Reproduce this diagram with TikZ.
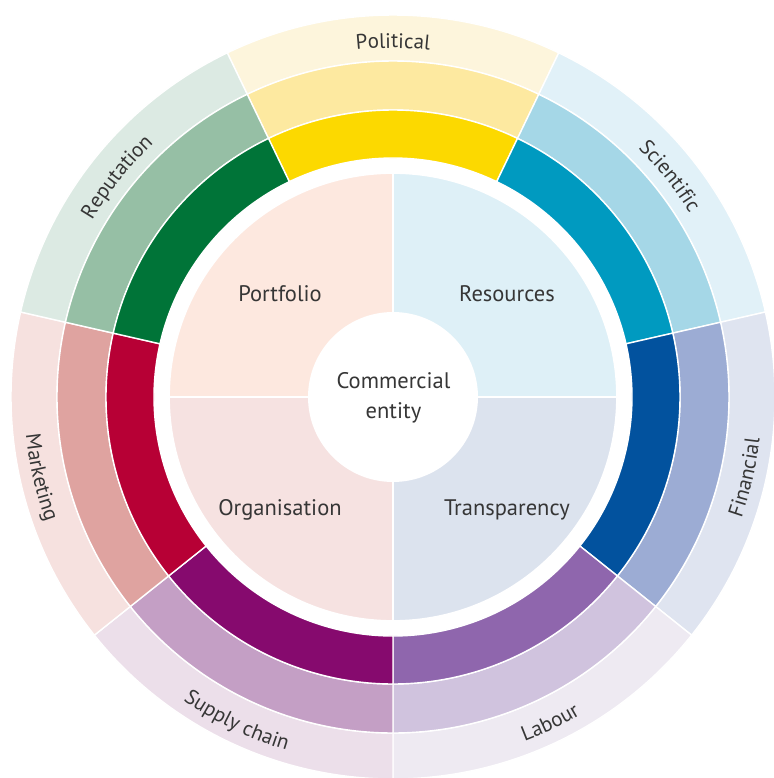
\documentclass[tikz,border=0pt]{standalone}
\usepackage{fontspec}
\setmainfont{PT Sans}
\usetikzlibrary{decorations.text}

% text
\definecolor{txt}{HTML}{363636}
% rings: outer (light), middle, inner (dark) for each sector
\definecolor{polO}{HTML}{FDF5DC}\definecolor{polM}{HTML}{FDE9A0}\definecolor{polD}{HTML}{FCD900}
\definecolor{sciO}{HTML}{E1F1F8}\definecolor{sciM}{HTML}{A5D7E7}\definecolor{sciD}{HTML}{009AC0}
\definecolor{finO}{HTML}{DFE4F0}\definecolor{finM}{HTML}{9CACD4}\definecolor{finD}{HTML}{02529E}
\definecolor{labO}{HTML}{EEEAF2}\definecolor{labM}{HTML}{D0C3DE}\definecolor{labD}{HTML}{8F66AD}
\definecolor{supO}{HTML}{ECDFEA}\definecolor{supM}{HTML}{C49FC5}\definecolor{supD}{HTML}{860A6E}
\definecolor{marO}{HTML}{F6E1DF}\definecolor{marM}{HTML}{DFA3A0}\definecolor{marD}{HTML}{B70035}
\definecolor{repO}{HTML}{DCEAE3}\definecolor{repM}{HTML}{96BFA5}\definecolor{repD}{HTML}{007438}
% quadrants
\definecolor{qPort}{HTML}{FDE8DF}
\definecolor{qRes}{HTML}{DEF0F7}
\definecolor{qOrg}{HTML}{F6E2E1}
\definecolor{qTra}{HTML}{DCE3EE}

\newcommand{\outerfont}{\fontsize{21}{21}\selectfont}

\tikzset{
  seg/.style={fill=#1, draw=white, line width=1.4pt},
  quad/.style={fill=#1, draw=white, line width=1.8pt},
  qlabel/.style={font=\fontsize{22.5}{30}\selectfont, text=txt, inner sep=0pt},
}

% annular sector: colour, start angle, end angle, inner radius, outer radius
\newcommand{\ringpart}[5]{%
  \filldraw[seg=#1] (#2:#4pt) arc[start angle=#2, end angle=#3, radius=#4pt]
    -- (#3:#5pt) arc[start angle=#3, end angle=#2, radius=#5pt] -- cycle;}

% label on an upper sector, read clockwise, letters pointing outwards
\newcommand{\upperlabel}[2]{%
  \pgfmathsetmacro{\la}{#1+30}\pgfmathsetmacro{\lb}{#1-30}%
  \path[decorate, decoration={text along path, text align=center,
      text color=txt, text={|\outerfont|#2}}]
    (\la:349pt) arc[start angle=\la, end angle=\lb, radius=349pt];}

% label on a lower sector, read anticlockwise, letters pointing inwards
\newcommand{\lowerlabel}[2]{%
  \pgfmathsetmacro{\la}{#1-30}\pgfmathsetmacro{\lb}{#1+30}%
  \path[decorate, decoration={text along path, text align=center,
      text color=txt, text={|\outerfont|#2}}]
    (\la:369pt) arc[start angle=\la, end angle=\lb, radius=369pt];}

\begin{document}
\begin{tikzpicture}[x=1pt, y=1pt]
\useasboundingbox (-393,-381) rectangle (380,397);

% seven sectors, three rings each
\foreach \k/\co/\cm/\cd in {0/polO/polM/polD, 1/sciO/sciM/sciD, 2/finO/finM/finD,
    3/labO/labM/labD, 4/supO/supM/supD, 5/marO/marM/marD, 6/repO/repM/repD} {
  \pgfmathsetmacro{\segmid}{90-\k*360/7}
  \pgfmathsetmacro{\sa}{\segmid+180/7}
  \pgfmathsetmacro{\sb}{\segmid-180/7}
  \ringpart{\co}{\sa}{\sb}{336}{382}
  \ringpart{\cm}{\sa}{\sb}{287}{336}
  \ringpart{\cd}{\sa}{\sb}{239}{287}
}

% four quadrants around the centre
\filldraw[quad=qRes] (0,0) -- (0:224pt) arc[start angle=0, end angle=90, radius=224pt] -- cycle;
\filldraw[quad=qPort] (0,0) -- (90:224pt) arc[start angle=90, end angle=180, radius=224pt] -- cycle;
\filldraw[quad=qOrg] (0,0) -- (180:224pt) arc[start angle=180, end angle=270, radius=224pt] -- cycle;
\filldraw[quad=qTra] (0,0) -- (270:224pt) arc[start angle=270, end angle=360, radius=224pt] -- cycle;

% centre disc
\fill[white] (0,0) circle[radius=85pt];

% labels
\node[qlabel, anchor=base] (portfolio) at (-113,95) {Portfolio};
\node[qlabel, anchor=base] (resources) at (114,95) {Resources};
\node[qlabel, anchor=base] (organisation) at (-113,-118) {Organisation};
\node[qlabel, anchor=base] (transparency) at (114,-118) {Transparency};
\node[qlabel, align=center] (entity) at (0.5,-1) {Commercial\\entity};

\upperlabel{90}{Political}
\upperlabel{38.571}{Scientific}
\upperlabel{141.429}{Reputation}
\lowerlabel{-12.857}{Financial}
\lowerlabel{-64.286}{Labour}
\lowerlabel{-115.714}{Supply chain}
\lowerlabel{192.857}{Marketing}
\end{tikzpicture}
\end{document}
